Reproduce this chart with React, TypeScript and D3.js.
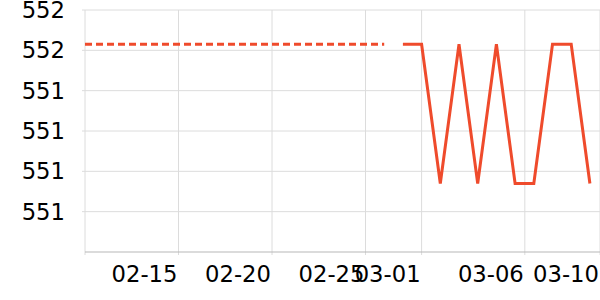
import React from "react";
import * as d3 from "d3";

// Days from 02-12 to 03-10 (index 0..27)
const days: string[] = [
  "02-12","02-13","02-14","02-15","02-16","02-17","02-18","02-19","02-20","02-21",
  "02-22","02-23","02-24","02-25","02-26","02-27","02-28","02-29","03-01","03-02",
  "03-03","03-04","03-05","03-06","03-07","03-08","03-09","03-10",
];

// dashed series: days 0..16
const dashedValues: number[] = [
  552.03,552.03,552.03,552.03,552.03,552.03,552.03,552.03,552.03,
  552.03,552.03,552.03,552.03,552.03,552.03,552.03,552.03,
];
// solid series: days 17..27
const solidValues: number[] = [
  552.03,552.03,551.34,552.03,551.34,552.03,551.34,551.34,552.03,552.03,551.34,
];
const solidStart = 17;

const yTickValues: number[] = [551.2, 551.4, 551.6, 551.8, 552.0, 552.2];
const yTickLabels: string[] = ["551", "551", "551", "551", "552", "552"];

const xTickPositions: number[] = [0, 5, 10, 15, 18, 23.52, 27.54];
const xTickLabels: string[] = ["", "02-15", "02-20", "02-25", "03-01", "03-06", "03-10"];

const W = 600;
const H = 300;
const left = 85;
const right = 600;
const top = 10;
const bottom = 252;

export default function App() {
  const x = d3.scaleLinear().domain([0, 27.54]).range([left, right]);
  const y = d3.scaleLinear().domain([551.0, 552.2]).range([bottom, top]);

  const line = d3
    .line<[number, number]>()
    .x((d) => x(d[0]))
    .y((d) => y(d[1]));

  const dashedPts: [number, number][] = dashedValues.map((v, i) => [i, v]);
  const solidPts: [number, number][] = solidValues.map((v, i) => [i + solidStart, v]);

  const font = "'DejaVu Sans', sans-serif";
  const color = "#ef4b2c";

  return (
    <svg
      width={W}
      height={H}
      style={{ position: "absolute", left: 0, top: 0, display: "block" }}
    >
      <rect x={0} y={0} width={W} height={H} fill="#fff" />
      {/* horizontal grid */}
      {yTickValues.map((v, i) => (
        <g key={"y" + i}>
          <line x1={left - 3} x2={right} y1={y(v)} y2={y(v)} stroke="#dcdcdc" strokeWidth={1} />
          <text
            x={65}
            y={y(v)}
            textAnchor="end"
            dominantBaseline="central"
            fontFamily={font}
            fontSize={22.7}
            fill="#000"
          >
            {yTickLabels[i]}
          </text>
        </g>
      ))}
      {/* vertical grid */}
      {xTickPositions.map((p, i) => (
        <g key={"x" + i}>
          <line x1={x(p)} x2={x(p)} y1={top} y2={bottom + 3} stroke="#dcdcdc" strokeWidth={1} />
          {xTickLabels[i] && (
            <text
              x={x(p) - 1}
              y={274}
              textAnchor="end"
              dominantBaseline="central"
              fontFamily={font}
              fontSize={22.7}
              fill="#000"
            >
              {xTickLabels[i]}
            </text>
          )}
        </g>
      ))}
      {/* bottom axis */}
      <line x1={left} x2={right} y1={bottom} y2={bottom} stroke="#b8b8b8" strokeWidth={1.2} />
      {/* series */}
      <path
        d={line(dashedPts) || ""}
        fill="none"
        stroke={color}
        strokeWidth={3}
        strokeDasharray="7,4"
      />
      <path
        d={line(solidPts) || ""}
        fill="none"
        stroke={color}
        strokeWidth={3}
        strokeLinejoin="miter"
      />
    </svg>
  );
}
